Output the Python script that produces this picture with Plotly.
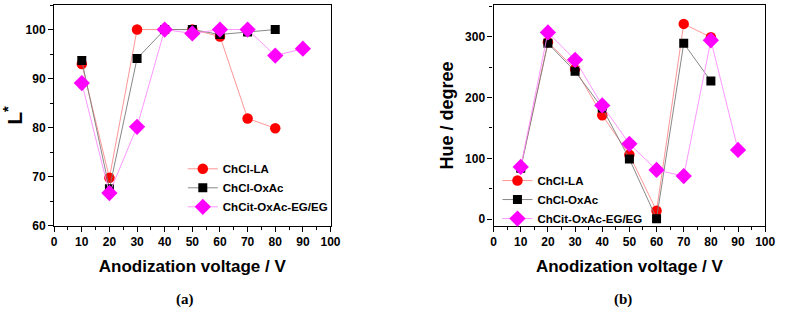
import plotly.graph_objects as go

voltage = [10, 20, 30, 40, 50, 60, 70, 80, 90]

L_la = [93.0, 69.8, 100.0, 100.0, 100.0, 98.6, 81.9, 79.9]
L_ox = [93.7, 67.6, 94.1, 100.0, 100.0, 99.0, 99.5, 100.0]
L_eg = [89.1, 66.7, 80.2, 100.0, 99.2, 100.0, 100.0, 94.7, 96.1]

H_la = [85, 291, 247, 171, 106, 14, 321, 299]
H_ox = [84, 289, 243, 183, 99, 1, 289, 227]
H_eg = [86, 307, 262, 187, 124, 81, 71, 294, 114]

names = ["ChCl-LA", "ChCl-OxAc", "ChCit-OxAc-EG/EG"]
marker_colors = ["#ff0000", "#000000", "#ff00ff"]
line_colors = ["#ff8a8a", "#7a7a7a", "#ff8aff"]
symbols = ["circle", "square", "diamond"]
sizes = [10.5, 9, 12.5]

fig = go.Figure()

left = [L_la, L_ox, L_eg]
right = [H_la, H_ox, H_eg]
for i in range(3):
    fig.add_trace(go.Scatter(
        x=voltage[:len(left[i])], y=left[i], mode="lines+markers", name=f"<b>{names[i]}</b>",
        line=dict(color=line_colors[i], width=0.9),
        marker=dict(color=marker_colors[i], symbol=symbols[i], size=sizes[i], line=dict(width=0)),
        xaxis="x", yaxis="y", legend="legend"))
for i in range(3):
    fig.add_trace(go.Scatter(
        x=voltage[:len(right[i])], y=right[i], mode="lines+markers", name=f"<b>{names[i]}</b>",
        line=dict(color=line_colors[i], width=0.9),
        marker=dict(color=marker_colors[i], symbol=symbols[i], size=sizes[i], line=dict(width=0)),
        xaxis="x2", yaxis="y2", legend="legend2"))

tickfont = dict(family="Liberation Sans", size=12, color="#000000")
titlefont = dict(family="Liberation Sans", size=17, color="#000000")

def xaxis(domain, anchor):
    return dict(domain=domain, anchor=anchor, range=[0, 100],
                tickvals=list(range(0, 101, 10)),
                ticktext=[f"<b>{v}</b>" for v in range(0, 101, 10)],
                ticks="outside", ticklen=5, tickwidth=1.2, tickcolor="#000",
                minor=dict(dtick=5, ticks="outside", ticklen=3, tickcolor="#000"),
                showline=True, linecolor="#000", linewidth=1.2, mirror=True,
                showgrid=False, zeroline=False, tickfont=tickfont,
                title=dict(text="<b>Anodization voltage / V</b>", font=titlefont, standoff=11))

legfont = dict(family="Liberation Sans", size=11.5, color="#000")

fig.update_layout(
    width=788, height=320,
    margin=dict(l=0, r=0, t=0, b=0),
    paper_bgcolor="white", plot_bgcolor="white",
    showlegend=True,
    xaxis=xaxis([0.066, 0.4226], "y"),
    xaxis2=xaxis([0.633, 0.9835], "y2"),
    yaxis=dict(domain=[0.278, 0.984], anchor="x", range=[60, 105],
               tickvals=[60, 70, 80, 90, 100],
               ticktext=[f"<b>{v}</b>" for v in [60, 70, 80, 90, 100]],
               ticks="outside", ticklen=5, tickwidth=1.2, tickcolor="#000",
               minor=dict(dtick=5, ticks="outside", ticklen=3, tickcolor="#000"),
               showline=True, linecolor="#000", linewidth=1.2, mirror=True,
               showgrid=False, zeroline=False, tickfont=tickfont,
               title=dict(text="<b>L<sup>*</sup></b>", font=dict(family="Liberation Sans", size=21, color="#000"), standoff=8)),
    yaxis2=dict(domain=[0.278, 0.984], anchor="x2", range=[-11, 352],
                tickvals=[0, 100, 200, 300],
                ticktext=[f"<b>{v}</b>" for v in [0, 100, 200, 300]],
                ticks="outside", ticklen=5, tickwidth=1.2, tickcolor="#000",
                minor=dict(dtick=50, ticks="outside", ticklen=3, tickcolor="#000"),
                showline=True, linecolor="#000", linewidth=1.2, mirror=True,
                showgrid=False, zeroline=False, tickfont=tickfont,
                title=dict(text="<b>Hue / degree</b>", font=dict(family="Liberation Sans", size=18, color="#000"), standoff=6)),
    legend=dict(x=0.232, y=1 - 192 / 320, xanchor="left", yanchor="middle",
                font=legfont, bgcolor="rgba(0,0,0,0)", borderwidth=0,
                tracegroupgap=0, itemwidth=30),
    legend2=dict(x=0.638, y=1 - 204 / 320, xanchor="left", yanchor="middle",
                 font=legfont, bgcolor="rgba(0,0,0,0)", borderwidth=0,
                 tracegroupgap=0, itemwidth=30),
    annotations=[
        dict(text="<b>(a)</b>", x=0.235, y=1 - 306 / 320, xref="paper", yref="paper",
             showarrow=False, xanchor="center", yanchor="middle",
             font=dict(family="Liberation Serif", size=15, color="#000")),
        dict(text="<b>(b)</b>", x=0.800, y=1 - 306 / 320, xref="paper", yref="paper",
             showarrow=False, xanchor="center", yanchor="middle",
             font=dict(family="Liberation Serif", size=15, color="#000")),
    ],
)

fig.write_html("out.html")
